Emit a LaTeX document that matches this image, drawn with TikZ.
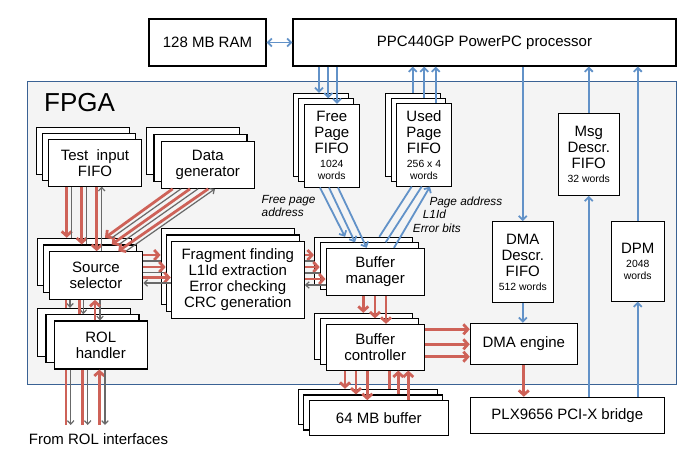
\documentclass[tikz,border=0pt]{standalone}
\usepackage{fontspec}
\setmainfont{Liberation Sans}
\usetikzlibrary{arrows.meta}
\definecolor{datared}{RGB}{206,98,88}
\definecolor{busblue}{RGB}{98,146,200}
\definecolor{ctrlgray}{RGB}{105,105,105}
\definecolor{fpgaline}{RGB}{58,98,148}
\definecolor{fpgafill}{RGB}{244,244,244}
\newcommand{\smalltxt}{\fontsize{10.4}{12}\selectfont}
% three stacked copies: name, centre, width, height, dx, dy, text
\newcommand{\layered}[7]{%
  \node[block, minimum width=#3, minimum height=#4, shift={(-2*#5,-2*#6)}] (#1b) at (#2) {};
  \node[block, minimum width=#3, minimum height=#4, shift={(-#5,-#6)}] (#1m) at (#2) {};
  \node[block, minimum width=#3, minimum height=#4] (#1) at (#2) {#7};
}

\begin{document}
\begin{tikzpicture}[
  x=1pt, y=-1pt,
  % Global text styling
  every node/.style={font=\fontsize{15}{16}\selectfont, align=center, inner sep=1pt},
  % Boxes
  block/.style={draw=black, line width=1.1pt, fill=white},
  region/.style={draw=fpgaline, line width=1pt, fill=fpgafill, anchor=north west},
  note/.style={font=\fontsize{11.8}{13}\selectfont\itshape, align=left},
  % Connectors
  data/.style={draw=datared, line width=2.8pt, >={Straight Barb[length=4.5pt,width=10pt]}},
  ctrl/.style={draw=ctrlgray, line width=1.2pt, >={Straight Barb[length=3.5pt,width=6.5pt]}},
  bus/.style={draw=busblue, line width=1.8pt, >={Straight Barb[length=4pt,width=8pt]}}
]
\useasboundingbox (0,0) rectangle (694,456);

% Host side
\node[block, minimum width=117, minimum height=47] (ram) at (207.5,42.5) {128 MB RAM};
\node[block, minimum width=383, minimum height=47] (ppc) at (484.5,42.5) {PPC440GP PowerPC processor};

% FPGA area
\node[region, minimum width=649, minimum height=303] (fpga) at (27,81) {};
\node[font=\fontsize{26}{28}\selectfont, anchor=base west] (fpgalbl) at (43,111.7) {FPGA};

% Stacked channel blocks
\layered{testfifo}{95,162.7}{92.6}{46.7}{6}{5.8}{Test\ \ input\\FIFO}
\layered{datagen}{207.8,164.8}{93}{47}{7.3}{6.8}{Data\\generator}
\layered{src}{96,275.5}{93.4}{47.6}{5.8}{6.7}{Source\\selector}
\layered{rol}{100.8,345}{93}{48}{8.3}{6.3}{ROL\\handler}
\layered{frag}{237.8,280}{133}{76.6}{5.1}{6.7}{Fragment finding\\L1Id extraction\\Error checking\\CRC generation}
\layered{bufman}{375.2,271.7}{98.3}{46.7}{5.8}{5.5}{Buffer\\manager}
\layered{bufctrl}{375.2,347.2}{98.3}{45.7}{5.8}{5.5}{Buffer\\controller}
\layered{buf64}{378.8,418.2}{139}{35}{5.5}{5.7}{64 MB buffer}
\layered{free}{331.8,145.7}{55}{82.7}{5.5}{5.5}{Free\\Page\\FIFO\\[-2pt]\smalltxt 1024\\[-4pt]\smalltxt words}
\layered{used}{424,144.7}{54.6}{82.7}{5.5}{5}{Used\\Page\\FIFO\\[-2pt]\smalltxt 256 x 4\\[-4pt]\smalltxt words}

% Single blocks
\node[block, minimum width=61, minimum height=82] (msgfifo) at (588.8,154.3) {Msg\\Descr.\\FIFO\\[-2pt]\smalltxt 32 words};
\node[block, minimum width=61, minimum height=80.6] (dmafifo) at (522.8,262) {DMA\\Descr.\\FIFO\\[-2pt]\smalltxt 512 words};
\node[block, minimum width=53, minimum height=79.3] (dpm) at (637.8,261.4) {DPM\\[-2pt]\smalltxt 2048\\[-4pt]\smalltxt words};
\node[block, minimum width=107, minimum height=41] (dma) at (523.8,343.8) {DMA engine};
\node[block, minimum width=194, minimum height=36] (plx) at (567.3,415.3) {PLX9656 PCI-X bridge};

% Labels
\node[note, anchor=north west] (freelbl) at (260.5,194.5) {Free page\\address};
\node[note, anchor=base west] (pagelbl) at (428.3,205) {Page address};
\node[note, anchor=base west] (idlbl) at (421.7,218) {L1Id};
\node[note, anchor=base west] (errlbl) at (411.7,232) {Error bits};
\node[anchor=center] (rolif) at (98.5,439) {From ROL interfaces};
\coordinate (rolin) at (98,425);

% Processor buses
\draw[bus,<->] (ram) -- (ppc);
\foreach \x/\n in {319/freeb, 328.3/freem, 337/free}
  \draw[bus,->] (\x,0 |- ppc.south) -- (\x,0 |- \n.north);
\foreach \x/\n in {412.7/usedb, 424.3/usedm, 435.7/used}
  \draw[bus,->] (\x,0 |- \n.north) -- (\x,0 |- ppc.south);
\draw[bus,->] (ppc.south -| dmafifo.north) -- (dmafifo.north);
\draw[bus,->] (msgfifo.north) -- (msgfifo.north |- ppc.south);
\draw[bus,->] (plx.north -| msgfifo.south) -- (msgfifo.south);
\draw[bus,->] (plx.north -| dpm.south) -- (dpm.south);
\draw[bus,->] (dpm.north) -- (dpm.north |- ppc.south);
\draw[bus,->] (dmafifo.south) -- (dmafifo.south |- dma.north);

% Page FIFOs <-> buffer manager
\draw[bus,->] (320,0 |- free.south) -- (345,0 |- bufmanb.north);
\draw[bus,->] (329,0 |- free.south) -- (355,0 |- bufmanm.north);
\draw[bus,->] (338,0 |- free.south) -- (366.7,0 |- bufman.north);
\draw[bus] (379.3,0 |- bufmanb.north) -- (411.7,0 |- used.south);
\draw[bus] (385.7,0 |- bufmanm.north) -- (421.7,0 |- used.south);
\draw[bus,->] (394,0 |- bufman.north) -- (430,0 |- used.south);

% Test input FIFO and data generator -> source selector
\foreach \x/\n in {66.7/srcb, 81.7/srcm, 96.7/src}
  \draw[data,->] (\x,0 |- testfifo.south) -- (\x,0 |- \n.north);
\draw[ctrl] (71.7,0 |- srcb.north) -- (71.7,0 |- testfifo.south);
\draw[ctrl] (86.7,0 |- srcm.north) -- (86.7,0 |- testfifo.south);
\draw[ctrl,->] (101.7,0 |- src.north) -- (101.7,0 |- testfifo.south);
\draw[data,->] (172.7,0 |- datagen.south) -- (105,0 |- srcb.north);
\draw[data,->] (190,0 |- datagen.south) -- (111.7,0 |- srcm.north);
\draw[data,->] (208.3,0 |- datagen.south) -- (118.3,0 |- src.north);
\draw[ctrl] (112,0 |- srcb.north) -- (181,0 |- datagen.south);
\draw[ctrl] (119,0 |- srcm.north) -- (198,0 |- datagen.south);
\draw[ctrl,->] (126,0 |- src.north) -- (215,0 |- datagen.south);

% Source selector -> fragment block -> buffer manager
\draw[data,->] (src.east |- 0,255) -- (fragb.west |- 0,255);
\draw[ctrl] (src.east |- 0,261) -- (fragb.west |- 0,261);
\draw[data,->] (src.east |- 0,267) -- (fragm.west |- 0,267);
\draw[ctrl] (src.east |- 0,272.5) -- (fragm.west |- 0,272.5);
\draw[data,->] (src.east |- 0,277.5) -- (frag.west |- 0,277.5);
\draw[ctrl,->] (frag.west |- 0,283) -- (src.east |- 0,283);
\draw[data,->] (frag.east |- 0,255) -- (bufmanb.west |- 0,255);
\draw[ctrl] (frag.east |- 0,261) -- (bufmanb.west |- 0,261);
\draw[data,->] (frag.east |- 0,267) -- (bufmanm.west |- 0,267);
\draw[ctrl] (frag.east |- 0,273) -- (bufmanm.west |- 0,273);
\draw[data,->] (frag.east |- 0,279) -- (bufman.west |- 0,279);
\draw[ctrl,->] (bufman.west |- 0,285) -- (frag.east |- 0,285);

% Source selector <-> ROL handler <-> links
\draw[ctrl,->] (70,0 |- src.south) -- (70,0 |- rolb.north);
\draw[ctrl,->] (83.3,0 |- src.south) -- (83.3,0 |- rolm.north);
\draw[ctrl,->] (100,0 |- src.south) -- (100,0 |- rol.north);
\draw[data] (66,0 |- rolb.north) -- (66,0 |- src.south);
\draw[data] (79.3,0 |- rolm.north) -- (79.3,0 |- src.south);
\draw[data,->] (95,0 |- rol.north) -- (95,0 |- src.south);
\draw[data] (66,0 |- rolin) -- (66,0 |- rol.south);
\draw[data] (82.3,0 |- rolin) -- (82.3,0 |- rol.south);
\draw[data,->] (99.3,0 |- rolin) -- (99.3,0 |- rol.south);
\foreach \x in {70.7, 87.7, 105}
  \draw[ctrl,->] (\x,0 |- rol.south) -- (\x,0 |- rolin);

% Buffer manager -> controller -> buffer / DMA
\foreach \x/\n in {363.3/bufctrlb, 375/bufctrlm, 386/bufctrl}
  \draw[data,->] (\x,0 |- bufman.south) -- (\x,0 |- \n.north);
\foreach \y in {329.3, 344.3, 356.7}
  \draw[data,->] (bufctrl.east |- 0,\y) -- (dma.west |- 0,\y);
\foreach \x/\n in {345/buf64b, 356/buf64m, 367.3/buf64}
  \draw[data,->] (\x,0 |- bufctrl.south) -- (\x,0 |- \n.north);
\draw[data] (389.3,0 |- buf64b.north) -- (389.3,0 |- bufctrl.south);
\draw[data,->] (398.3,0 |- buf64m.north) -- (398.3,0 |- bufctrl.south);
\draw[data,->] (408.3,0 |- buf64.north) -- (408.3,0 |- bufctrl.south);
\draw[data,->] (dma.south) -- (dma.south |- plx.north);

\end{tikzpicture}
\end{document}
